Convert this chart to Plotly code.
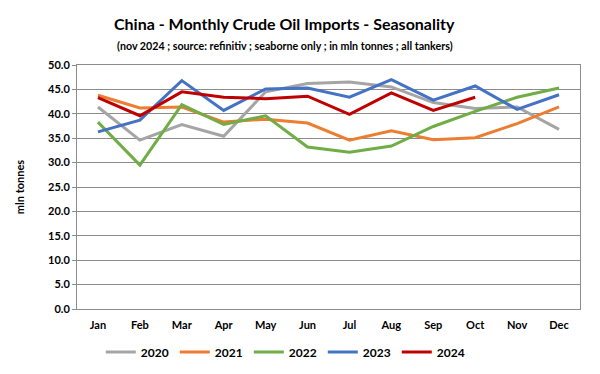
import plotly.graph_objects as go

months = ["Jan", "Feb", "Mar", "Apr", "May", "Jun", "Jul", "Aug", "Sep", "Oct", "Nov", "Dec"]
y2020 = [41.4, 34.6, 37.8, 35.4, 44.5, 46.2, 46.5, 45.5, 42.3, 41.1, 41.4, 36.8]
y2021 = [43.8, 41.2, 41.4, 38.3, 38.9, 38.1, 34.6, 36.5, 34.7, 35.1, 38.0, 41.4]
y2022 = [38.3, 29.5, 41.9, 37.8, 39.6, 33.2, 32.1, 33.4, 37.4, 40.5, 43.4, 45.3]
y2023 = [36.3, 38.7, 46.8, 40.7, 45.1, 45.3, 43.4, 47.0, 42.8, 45.7, 40.9, 43.9]
y2024 = [43.3, 39.6, 44.5, 43.4, 43.1, 43.6, 39.9, 44.3, 40.7, 43.4]
y_ticks = [0, 5, 10, 15, 20, 25, 30, 35, 40, 45, 50]

series = [
    ("2020", y2020, "#A5A5A5"),
    ("2021", y2021, "#ED7D31"),
    ("2022", y2022, "#70AD47"),
    ("2023", y2023, "#4472C4"),
    ("2024", y2024, "#C00000"),
]

FONT = "Lato"
fig = go.Figure()
for name, vals, col in series:
    fig.add_trace(go.Scatter(
        x=months[:len(vals)], y=vals, name=name, mode="lines",
        line=dict(color=col, width=3),
    ))

fig.update_layout(
    width=600, height=374,
    paper_bgcolor="white", plot_bgcolor="white",
    margin=dict(l=69, r=28, t=57, b=73, autoexpand=False),
    font=dict(family=FONT, color="#000000"),
    showlegend=True,
    legend=dict(
        orientation="h", x=0.463, xref="container", xanchor="center",
        y=(374 - 344) / 374, yref="container", yanchor="middle",
        font=dict(family=FONT, size=12, color="#000000", weight="bold"),
        entrywidth=29, itemwidth=30, tracegroupgap=0,
    ),
)
fig.add_annotation(text="<b>China - Monthly Crude Oil Imports - Seasonality</b>",
                   xref="paper", yref="paper", x=0.4135, y=1.0, yshift=42,
                   showarrow=False, font=dict(family=FONT, size=16, color="#000000"),
                   xanchor="center", yanchor="middle")
fig.add_annotation(text="<b>(nov 2024 ; source: refinitiv ; seaborne only ; in mln tonnes ; all tankers)</b>",
                   xref="paper", yref="paper", x=0.4135, y=1.0, yshift=20,
                   showarrow=False, font=dict(family=FONT, size=10.7, color="#000000"),
                   xanchor="center", yanchor="middle")

fig.update_xaxes(
    type="category", categoryorder="array", categoryarray=months,
    showgrid=False, showline=True, linecolor="#8C8C8C", linewidth=1, mirror=True,
    ticks="", tickfont=dict(family=FONT, size=11, color="#000000", weight="bold"),
    ticklabelstandoff=6, range=[-0.5, 11.5],
)
fig.update_yaxes(
    range=[0, 50], tickvals=y_ticks, tickformat=".1f",
    showgrid=True, gridcolor="#8C8C8C", gridwidth=1,
    showline=True, linecolor="#8C8C8C", linewidth=1, mirror=True,
    ticks="outside", ticklen=4, tickcolor="#8C8C8C",
    tickfont=dict(family=FONT, size=11, color="#000000", weight="bold"),
    title=dict(text="<b>mln tonnes</b>", font=dict(family=FONT, size=11, color="#000000"), standoff=21),
    zeroline=False,
)

fig.write_html("out.html")
